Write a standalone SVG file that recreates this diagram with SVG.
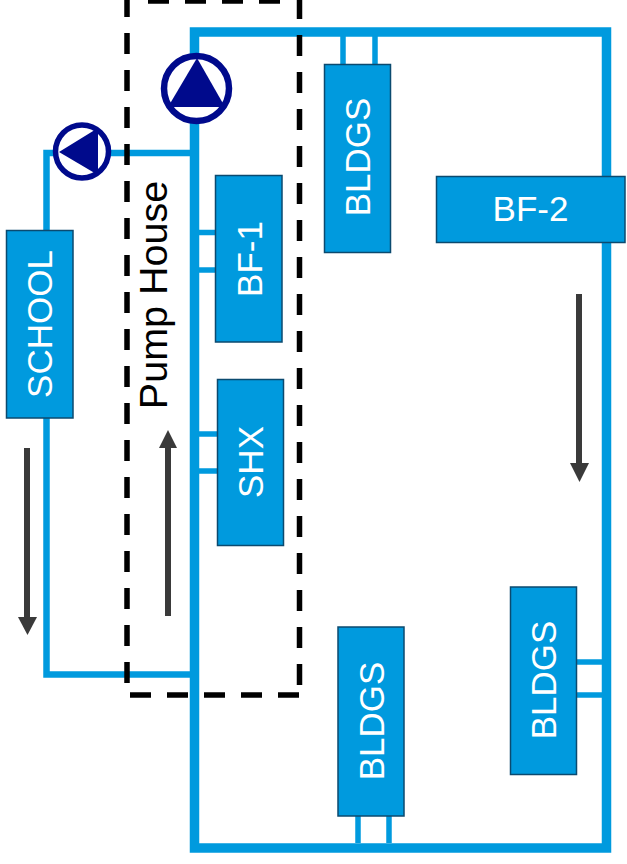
<svg xmlns="http://www.w3.org/2000/svg" width="627" height="864" viewBox="0 0 627 864">
<style>
.pipe{fill:none;stroke:#009ade}
.dash{fill:none;stroke:#000;stroke-width:5.5;stroke-dasharray:21 16}
.arrow{fill:none;stroke:#3a3a3a;stroke-width:6}
.head{fill:#3a3a3a}
.box{fill:#009ade;stroke:#0b4a6f;stroke-width:1.5}
.label{fill:#fff;font-family:"Liberation Sans",Arial,sans-serif;font-size:35px;text-anchor:middle}
.pump{fill:#fff;stroke:#000a8c}
.tri{fill:#000a8c}
</style>
<rect width="627" height="864" fill="#fff"/>
<g id="connectors">
<path class="pipe" stroke-width="9.500" d="M194.500 32H606.500V848H194.500Z"/>
<path class="pipe" stroke-width="6.500" d="M190 153H46.500V674.500H190"/>
<path class="pipe" stroke-width="5.500" d="M343 36V64M375 36V64M199 232.500H215M199 270H215M199 434H217M199 471H217M358 816V843M389 816V843M576 662H602M576 695H602"/>
</g>
<g id="pump-house">
<path class="dash" d="M127 683V-3"/>
<path class="dash" d="M299.500 685V-3"/>
<path class="dash" d="M130 695H302"/>
<path class="dash" d="M280 1H140"/>
<text x="167" y="295" transform="rotate(-90 167 295)" font-family="'Liberation Sans',Arial,sans-serif" font-size="39.500" text-anchor="middle" fill="#000">Pump House</text>
</g>
<g id="flow-arrows">
<path class="arrow" d="M27 448V620"/><path class="head" d="M18 617H37L27.500 635Z"/>
<path class="arrow" d="M168 616V445"/><path class="head" d="M159 448H177L168 430Z"/>
<path class="arrow" d="M579 294V465"/><path class="head" d="M570 463H589L579.500 482Z"/>
</g>
<g id="pump-main"><circle class="pump" cx="196.500" cy="88.500" r="32.500" stroke-width="6.500"/><path class="tri" d="M197 58L168 107H225Z"/></g>
<g id="pump-school"><circle class="pump" cx="82" cy="151.500" r="26.500" stroke-width="5.500"/><path class="tri" d="M59 152L98 128V175Z"/></g>
<g id="school"><rect class="box" x="6.500" y="230.500" width="66.500" height="187.500"/><text class="label" transform="translate(52 324) rotate(-90)">SCHOOL</text></g>
<g id="bf-1"><rect class="box" x="215.500" y="175.500" width="66.500" height="166.500"/><text class="label" transform="translate(261.500 259) rotate(-90)">BF-1</text></g>
<g id="shx"><rect class="box" x="217.500" y="379.500" width="66" height="166"/><text class="label" transform="translate(263 462) rotate(-90)">SHX</text></g>
<g id="bldgs-top"><rect class="box" x="324.500" y="64.500" width="66" height="188"/><text class="label" transform="translate(370 157) rotate(-90)">BLDGS</text></g>
<g id="bf-2"><rect class="box" x="436.500" y="176.500" width="188.500" height="66"/><text class="label" x="530.500" y="221">BF-2</text></g>
<g id="bldgs-bottom"><rect class="box" x="338" y="627" width="66" height="189"/><text class="label" transform="translate(384 721) rotate(-90)">BLDGS</text></g>
<g id="bldgs-right"><rect class="box" x="510.500" y="587" width="66" height="187.500"/><text class="label" transform="translate(556 680) rotate(-90)">BLDGS</text></g>
</svg>
